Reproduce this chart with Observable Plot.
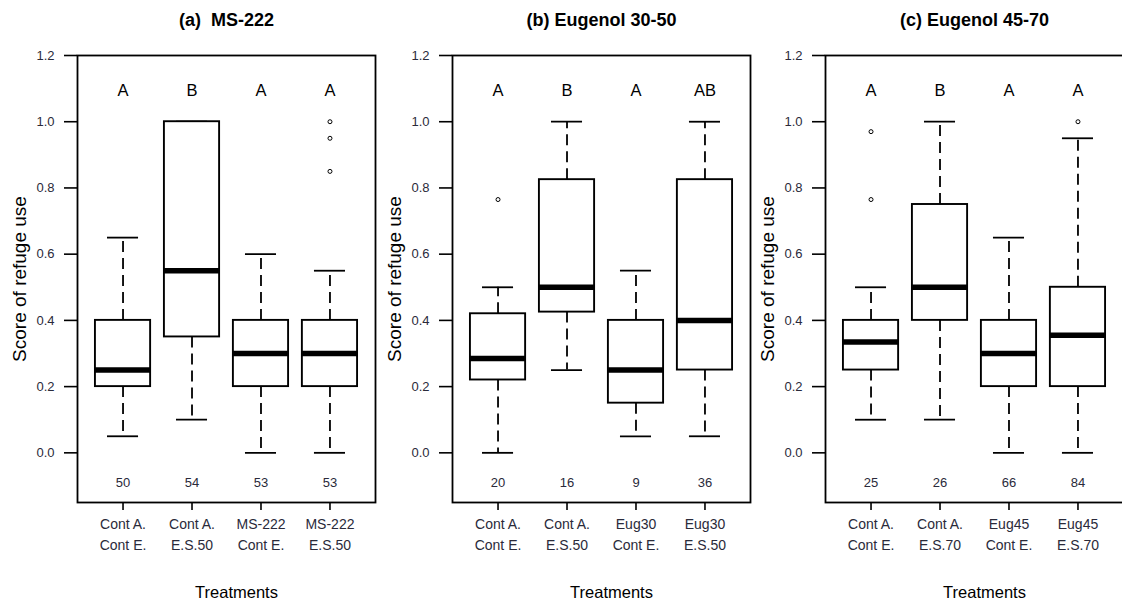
<!DOCTYPE html>
<html>
<head>
<meta charset="utf-8">
<script src="https://cdn.jsdelivr.net/npm/d3@7"></script>
<script src="https://cdn.jsdelivr.net/npm/@observablehq/plot@0.6"></script>
<style>
  html, body { margin: 0; padding: 0; background: #fff; }
  #chart { position: relative; width: 1122px; height: 609px; overflow: hidden; background: #fff; }
  #chart svg { position: absolute; top: 0; overflow: visible; }
</style>
</head>
<body>
<div id="chart"></div>
<script>
// ---- data ----
const panelTitles = ["(a)  MS-222", "(b) Eugenol 30-50", "(c) Eugenol 45-70"];
const treatmentLabels = [
  ["Cont A.\nCont E.", "Cont A.\nE.S.50", "MS-222\nCont E.", "MS-222\nE.S.50"],
  ["Cont A.\nCont E.", "Cont A.\nE.S.50", "Eug30\nCont E.", "Eug30\nE.S.50"],
  ["Cont A.\nCont E.", "Cont A.\nE.S.70", "Eug45\nCont E.", "Eug45\nE.S.70"]
];
const whiskerLow  = [[0.05, 0.10, 0.00, 0.00], [0.00, 0.25, 0.05, 0.05], [0.10, 0.10, 0.00, 0.00]];
const quartile1   = [[0.20, 0.35, 0.20, 0.20], [0.22, 0.425, 0.15, 0.25], [0.25, 0.40, 0.20, 0.20]];
const medians     = [[0.25, 0.55, 0.30, 0.30], [0.285, 0.50, 0.25, 0.40], [0.335, 0.50, 0.30, 0.355]];
const quartile3   = [[0.40, 1.00, 0.40, 0.40], [0.42, 0.825, 0.40, 0.825], [0.40, 0.75, 0.40, 0.50]];
const whiskerHigh = [[0.65, 1.00, 0.60, 0.55], [0.50, 1.00, 0.55, 1.00], [0.50, 1.00, 0.65, 0.95]];
const outliers    = [[[], [], [], [1.00, 0.95, 0.85]], [[0.765], [], [], []], [[0.97, 0.765], [], [], [1.00]]];
const groupLetters = [["A", "B", "A", "A"], ["A", "B", "A", "AB"], ["A", "B", "A", "A"]];
const sampleSizes  = [[50, 54, 53, 53], [20, 16, 9, 36], [25, 26, 66, 84]];
const yTicks = [0, 0.2, 0.4, 0.6, 0.8, 1.0, 1.2];

// ---- layout ----
const panelLeft = [0, 374.5, 748];
const FONT = "'Liberation Sans', Arial, sans-serif";
const letterLevel = 1.095;
const half = 0.4, staple = 0.225;

const chart = document.getElementById("chart");

panelTitles.forEach((title, p) => {
  const boxes = treatmentLabels[p].map((lab, j) => ({
    x: j + 1,
    low: whiskerLow[p][j], q1: quartile1[p][j], med: medians[p][j],
    q3: quartile3[p][j], high: whiskerHigh[p][j],
    letter: groupLetters[p][j], n: String(sampleSizes[p][j])
  }));
  const outs = outliers[p].flatMap((vals, j) => vals.map(v => ({x: j + 1, y: v})));

  const svg = Plot.plot({
    width: 375,
    height: 609,
    marginLeft: 77,
    marginRight: 0,
    marginTop: 55,
    marginBottom: 107,
    style: {fontFamily: FONT, fontSize: "12px", color: "#000", background: "transparent", overflow: "visible"},
    x: {domain: [0.34, 4.66], axis: null},
    y: {domain: [-0.15, 1.2], axis: null},
    marks: [
      Plot.axisY({ticks: yTicks, tickFormat: d3.format(".1f"), tickSize: 13, tickPadding: 10,
                  fontSize: 13, fill: "#2a2a3a", stroke: "#000", strokeWidth: 1.6, label: null}),
      Plot.axisX({ticks: [1, 2, 3, 4], tickFormat: d => treatmentLabels[p][d - 1], tickSize: 8,
                  tickPadding: 4, fontSize: 14, lineHeight: 1.47, fill: "#2a2a3a", stroke: "#000",
                  strokeWidth: 1.6, label: null}),
      // whiskers
      Plot.ruleX(boxes, {x: "x", y1: "q3", y2: "high", stroke: "#000", strokeWidth: 1.8, strokeDasharray: "11,6"}),
      Plot.ruleX(boxes, {x: "x", y1: "q1", y2: "low", stroke: "#000", strokeWidth: 1.8, strokeDasharray: "11,6"}),
      // staples
      Plot.ruleY(boxes, {y: "high", x1: d => d.x - staple, x2: d => d.x + staple, stroke: "#000", strokeWidth: 1.8}),
      Plot.ruleY(boxes, {y: "low", x1: d => d.x - staple, x2: d => d.x + staple, stroke: "#000", strokeWidth: 1.8}),
      // boxes
      Plot.rect(boxes, {x1: d => d.x - half, x2: d => d.x + half, y1: "q1", y2: "q3",
                        fill: "#fff", stroke: "#000", strokeWidth: 1.9}),
      // medians
      Plot.ruleY(boxes, {y: "med", x1: d => d.x - half, x2: d => d.x + half, stroke: "#000", strokeWidth: 5.5}),
      // outliers
      Plot.dot(outs, {x: "x", y: "y", r: 2, stroke: "#000", strokeWidth: 1, fill: "#fff"}),
      // significance letters
      Plot.text(boxes, {x: "x", y: () => letterLevel, text: "letter", fontSize: 16.5, fill: "#000", lineAnchor: "middle"}),
      // sample sizes
      Plot.text(boxes, {x: "x", frameAnchor: "bottom", lineAnchor: "middle", dy: -20, text: "n", fontSize: 13, fill: "#2a2a3a"}),
      // frame
      Plot.frame({stroke: "#000", strokeWidth: 1.8}),
      // title
      Plot.text([title], {frameAnchor: "top", lineAnchor: "middle", dy: -35.5, fontWeight: "bold",
                          fontSize: 18, letterSpacing: "1px", fill: "#000"}),
      // axis titles
      Plot.text(["Score of refuge use"], {frameAnchor: "left", textAnchor: "middle", lineAnchor: "middle",
                                          dx: -58, rotate: -90, fontSize: 19, letterSpacing: "1.2px", fill: "#000"}),
      Plot.text(["Treatments"], {frameAnchor: "bottom", lineAnchor: "middle", dy: 90, dx: 10, fontSize: 16.5, fill: "#000"})
    ]
  });
  svg.style.left = panelLeft[p] + "px";
  chart.appendChild(svg);
});
</script>
</body>
</html>
